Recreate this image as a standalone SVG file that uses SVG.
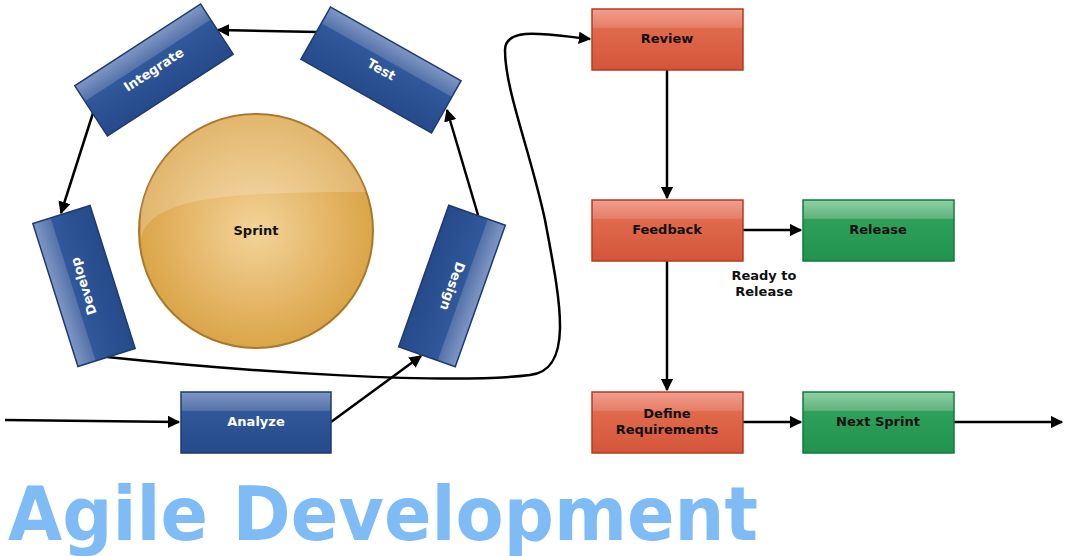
<svg xmlns="http://www.w3.org/2000/svg" width="1068" height="556" viewBox="0 0 1068 556">
<style>
text{font-family:"DejaVu Sans",Verdana,sans-serif;font-weight:bold;font-size:13px;text-anchor:middle}
.w{fill:#fff}.k{fill:#111}
.blue{fill:url(#gb);stroke:#1d3a72;stroke-width:1.5}
.red{fill:url(#gr);stroke:#b63a1f;stroke-width:1.5}
.green{fill:url(#gg);stroke:#137a3e;stroke-width:1.5}
.c{fill:none;stroke:#000;stroke-width:2.5;marker-end:url(#a)}
</style>
<defs>
<marker id="a" viewBox="0 0 10 10" refX="9" refY="5" markerWidth="5" markerHeight="5" orient="auto" markerUnits="strokeWidth"><path d="M0,0L10,5L0,10z"/></marker>
<linearGradient id="gb" x1="0" y1="0" x2="0" y2="1"><stop offset="0" stop-color="#7f97c4"/><stop offset="0.3" stop-color="#5674aa"/><stop offset="0.32" stop-color="#30589a"/><stop offset="1" stop-color="#264a8a"/></linearGradient>
<linearGradient id="gr" x1="0" y1="0" x2="0" y2="1"><stop offset="0" stop-color="#f0a090"/><stop offset="0.3" stop-color="#e87e66"/><stop offset="0.32" stop-color="#e06a4c"/><stop offset="1" stop-color="#d4553a"/></linearGradient>
<linearGradient id="gg" x1="0" y1="0" x2="0" y2="1"><stop offset="0" stop-color="#8fcfa5"/><stop offset="0.3" stop-color="#5fb47e"/><stop offset="0.32" stop-color="#2fa05c"/><stop offset="1" stop-color="#22934f"/></linearGradient>
<radialGradient id="gs" cx="0.5" cy="0.5" r="0.55"><stop offset="0" stop-color="#f3d39a"/><stop offset="1" stop-color="#d9a040"/></radialGradient>
</defs>
<g id="connectors">
<path class="c" d="M5,420 L179,422"/>
<path class="c" d="M331,422 L421,356"/>
<path class="c" d="M478,215 L447,110"/>
<path class="c" d="M317,32 L218,30"/>
<path class="c" d="M93,113 L61,213"/>
<path class="c" d="M107,357 C250,372 450,385 530,375 C575,370 560,300 545,220 C530,150 505,90 505,50 C505,25 550,35 590,39"/>
<path class="c" d="M667,70 L667,198"/>
<path class="c" d="M667,261 L667,390"/>
<path class="c" d="M743,230 L801,230"/>
<path class="c" d="M743,422 L801,422"/>
<path class="c" d="M954,422 L1062,422"/>
</g>
<g id="sprint"><circle cx="256" cy="231" r="117" fill="url(#gs)" stroke="#a8782a" stroke-width="2"/><path d="M141,238 C150,195 240,192 366,192 A117,117 0 0 0 141,210z" fill="#fff" opacity="0.2"/><text class="k" x="256" y="235">Sprint</text></g>
<g id="analyze"><rect class="blue" x="181" y="392" width="150" height="61"/><text class="w" x="256" y="426">Analyze</text></g>
<g id="design" transform="translate(452,286) rotate(109.5)"><rect class="blue" x="-75" y="-30" width="150" height="60"/><text class="w" x="0" y="4">Design</text></g>
<g id="test" transform="translate(381,70) rotate(29.5)"><rect class="blue" x="-75" y="-30" width="150" height="60"/><text class="w" x="0" y="4">Test</text></g>
<g id="integrate" transform="translate(154,70) rotate(-33)"><rect class="blue" x="-75" y="-30" width="150" height="60"/><text class="w" x="0" y="4">Integrate</text></g>
<g id="develop" transform="translate(84,286) rotate(-107.5)"><rect class="blue" x="-75" y="-30" width="150" height="60"/><text class="w" x="0" y="4">Develop</text></g>
<g id="review"><rect class="red" x="592" y="9" width="151" height="61"/><text class="k" x="667" y="43">Review</text></g>
<g id="feedback"><rect class="red" x="592" y="200" width="151" height="61"/><text class="k" x="667" y="234">Feedback</text></g>
<g id="define"><rect class="red" x="592" y="392" width="151" height="61"/><text class="k" x="667" y="418">Define</text><text class="k" x="667" y="434">Requirements</text></g>
<g id="release"><rect class="green" x="803" y="200" width="151" height="61"/><text class="k" x="878" y="234">Release</text></g>
<g id="next"><rect class="green" x="803" y="392" width="151" height="61"/><text class="k" x="878" y="426">Next Sprint</text></g>
<g id="label"><text class="k" x="764" y="280">Ready to</text><text class="k" x="764" y="296">Release</text></g>
<text x="8" y="540" style="font-size:74px;text-anchor:start;fill:#7fbcf6" textLength="750" lengthAdjust="spacingAndGlyphs">Agile Development</text>
</svg>
